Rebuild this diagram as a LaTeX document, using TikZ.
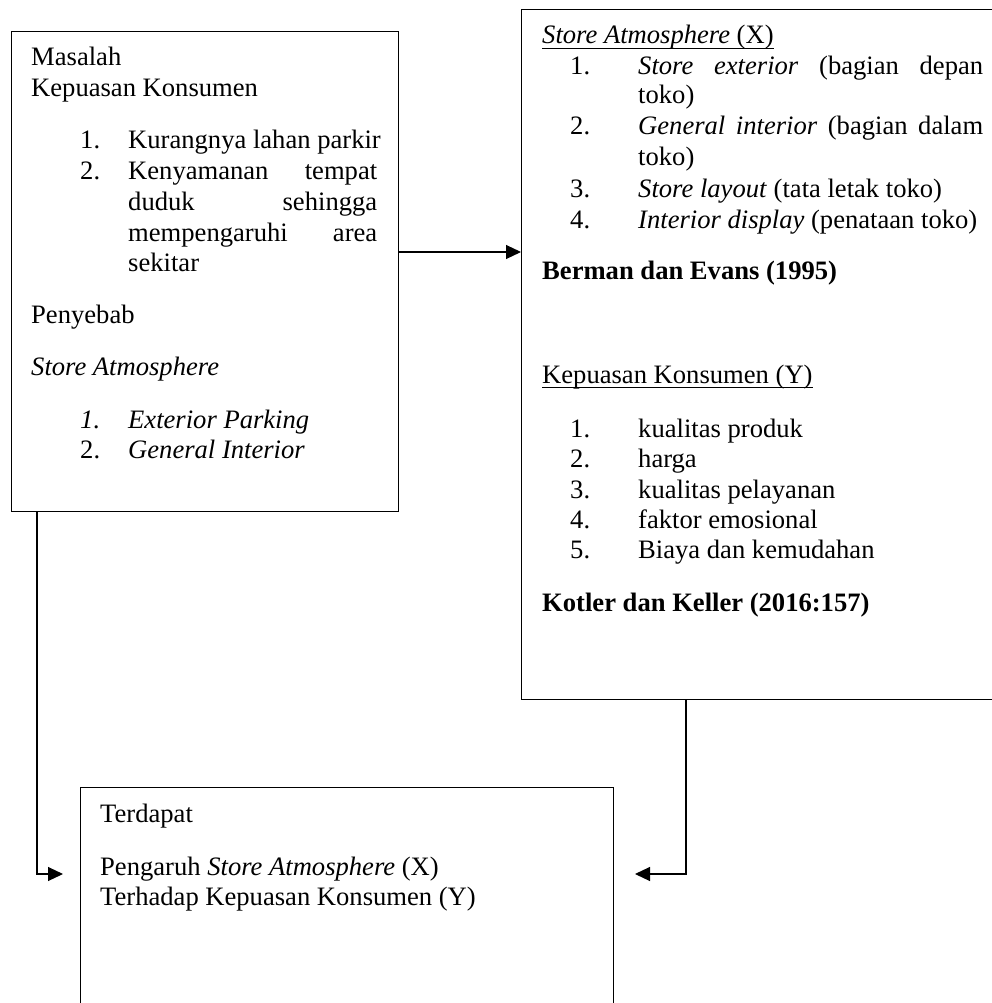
\documentclass[tikz,border=0pt]{standalone}
\usepackage{fontspec}
\setmainfont{Liberation Serif}
\usetikzlibrary{arrows.meta}
\begin{document}
\begin{tikzpicture}[x=1pt,y=-1pt,
 boxnode/.style={draw,line width=1.1pt,inner sep=0pt,anchor=north west},
 txt/.style={anchor=base west,inner sep=0pt,font=\fontsize{26.6}{31}\selectfont},
 conn/.style={line width=1.1pt},
 arr/.style={conn,-{Triangle[length=15pt,width=14pt]}},
 uline/.style={line width=1.2pt}]
\useasboundingbox (0,0) rectangle (992,1003);
\clip (0,0) rectangle (992,1003);
% boxes
\node[boxnode,minimum width=387pt,minimum height=480pt] (L) at (11,31) {};
\node[boxnode,minimum width=520pt,minimum height=690pt] (R) at (521,9) {};
\node[boxnode,minimum width=533pt,minimum height=300pt] (B) at (80,787) {};
% left box text
\node[txt] (l1) at (31,66) {Masalah};
\node[txt] (l2) at (31,97) {Kepuasan Konsumen};
\node[txt] (l3n) at (80,149) {1.};
\node[txt] (l3) at (128,149) {Kurangnya lahan parkir};
\node[txt] (l4n) at (80,180) {2.};
\node[txt] (l4) at (128,180) {\hbox to 249pt{Kenyamanan\hfil tempat}};
\node[txt] (l5) at (128,210) {\hbox to 249pt{duduk\hfil sehingga}};
\node[txt] (l6) at (128,241) {\hbox to 249pt{mempengaruhi\hfil area}};
\node[txt] (l7) at (128,271) {sekitar};
\node[txt] (l8) at (31,323) {Penyebab};
\node[txt] (l9) at (31,375) {\textit{Store Atmosphere}};
\node[txt] (l10n) at (80,428) {\textit{1.}};
\node[txt] (l10) at (128,428) {\textit{Exterior Parking}};
\node[txt] (l11n) at (80,458) {2.};
\node[txt] (l11) at (128,458) {\textit{General Interior}};
% right box text
\node[txt] (r1) at (542,44) {\textit{Store Atmosphere} (X)};
\draw[uline] ([yshift=-4.5pt]r1.base west) -- ([yshift=-4.5pt]r1.base east);
\node[txt] (r2n) at (570,75) {1.};
\node[txt] (r2) at (638,75) {\hbox to 345pt{\textit{Store}\hfil\textit{exterior}\hfil(bagian\hfil depan}};
\node[txt] (r3) at (638,104) {toko)};
\node[txt] (r4n) at (570,135) {2.};
\node[txt] (r4) at (638,135) {\hbox to 345pt{\textit{General}\hfil\textit{interior}\hfil(bagian\hfil dalam}};
\node[txt] (r5) at (638,166) {toko)};
\node[txt] (r6n) at (570,197) {3.};
\node[txt] (r6) at (638,197) {\textit{Store layout} (tata letak toko)};
\node[txt] (r7n) at (570,228) {4.};
\node[txt] (r7) at (638,228) {\textit{Interior display} (penataan toko)};
\node[txt] (r8) at (542,279) {\textbf{Berman dan Evans (1995)}};
\node[txt] (r9) at (542,383) {Kepuasan Konsumen (Y)};
\draw[uline] ([yshift=-4.5pt]r9.base west) -- ([yshift=-4.5pt]r9.base east);
\node[txt] (r10n) at (570,437) {1.};
\node[txt] (r10) at (638,437) {kualitas produk};
\node[txt] (r11n) at (570,467) {2.};
\node[txt] (r11) at (638,467) {harga};
\node[txt] (r12n) at (570,498) {3.};
\node[txt] (r12) at (638,498) {kualitas pelayanan};
\node[txt] (r13n) at (570,528) {4.};
\node[txt] (r13) at (638,528) {faktor emosional};
\node[txt] (r14n) at (570,558) {5.};
\node[txt] (r14) at (638,558) {Biaya dan kemudahan};
\node[txt] (r15) at (542,611) {\textbf{Kotler dan Keller (2016:157)}};
% bottom box text
\node[txt] (b1) at (100,822) {Terdapat};
\node[txt] (b2) at (100,875) {Pengaruh \textit{Store Atmosphere} (X)};
\node[txt] (b3) at (100,905) {Terhadap Kepuasan Konsumen (Y)};
% connectors
\coordinate (mid) at (0,252);
\draw[arr] (L.east |- mid) -- (R.west |- mid);
\coordinate (ls) at (37,0);
\coordinate (rs) at (686,0);
\coordinate (tipL) at (63,874);
\coordinate (tipR) at (635,874);
\draw[arr] (L.south -| ls) |- (tipL);
\draw[arr] (R.south -| rs) |- (tipR);
\end{tikzpicture}
\end{document}
